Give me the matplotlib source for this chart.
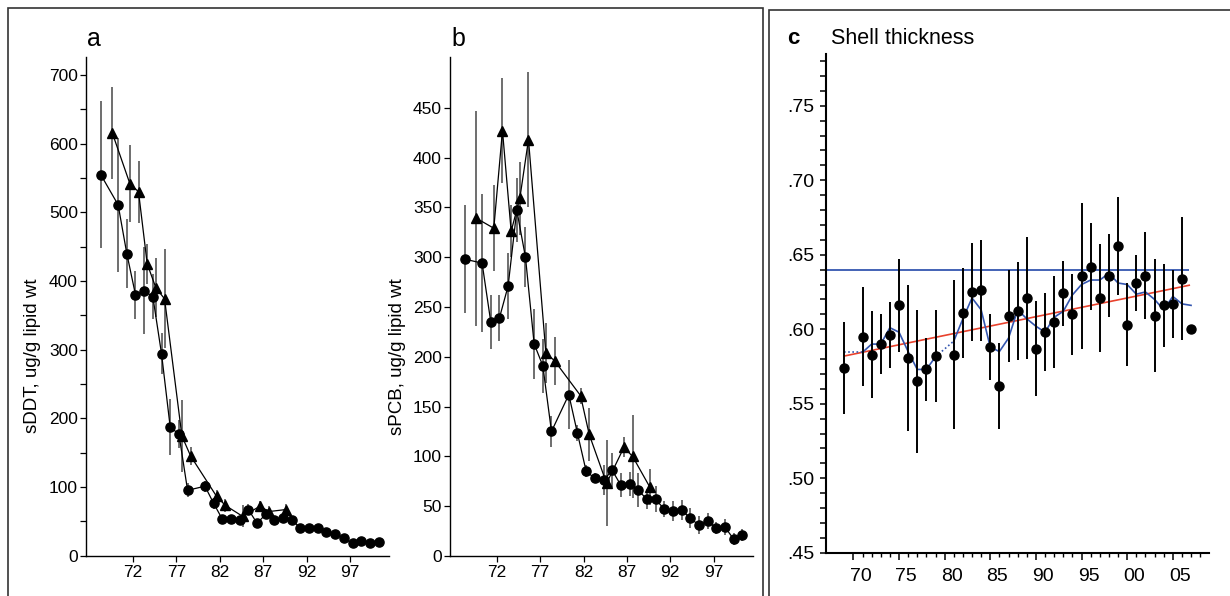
import numpy as np
import matplotlib
matplotlib.use("Agg")
import matplotlib.pyplot as plt
from matplotlib.patches import Rectangle
from matplotlib.ticker import MultipleLocator, FixedLocator, FuncFormatter
from matplotlib.transforms import ScaledTranslation

plt.rcParams["font.family"] = ["Liberation Sans", "DejaVu Sans"]

# --- contaminant series (two-digit years), circles and triangles ---
circ_years = [68, 70, 71, 72, 73, 74, 75, 76, 77, 78,
              80, 81, 82, 83, 84, 85, 86, 87, 88, 89, 90,
              91, 92, 93, 94, 95, 96, 97, 98, 99, 100]
tri_years = [69, 71, 72, 73, 74, 75, 77, 78, 81, 82, 84, 86, 87, 89]

ddt_circ = [555, 511, 440, 380, 386, 377, 294, 187, 177, 95,
            101, 76, 53, 53, 52, 67, 47, 60, 52, 55, 52,
            40, 40, 40, 34, 32, 25, 18, 21, 18, 20]
ddt_circ_err = [107, 98, 50, 35, 63, 33, 30, 41, 20, 10,
                8, 8, 6, 6, 6, 8, 6, 6, 6, 6, 5,
                4, 4, 4, 4, 4, 4, 4, 4, 4, 4]
ddt_tri = [615, 542, 530, 425, 390, 374, 174, 145, 86, 73, 57, 72, 64, 67]
ddt_tri_err = [67, 56, 45, 29, 43, 72, 52, 13, 10, 10, 16, 8, 8, 8]

pcb_circ = [298, 294, 235, 239, 271, 347, 300, 213, 191, 125,
            162, 123, 85, 78, 76, 86, 71, 72, 66, 57, 57,
            47, 45, 46, 38, 31, 35, 28, 29, 17, 21]
pcb_circ_err = [54, 69, 27, 23, 33, 32, 30, 35, 27, 16,
                35, 8, 6, 5, 15, 17, 12, 12, 17, 10, 13,
                8, 10, 10, 10, 9, 8, 6, 8, 6, 6]
pcb_tri = [339, 329, 427, 326, 359, 418, 204, 196, 161, 122, 73, 109, 100, 69]
pcb_tri_err = [108, 43, 53, 26, 37, 68, 30, 24, 8, 27, 43, 10, 42, 18]

# --- shell thickness ---
shell_years = [1969, 1971, 1972, 1973, 1974, 1975, 1976, 1977, 1978, 1979,
               1981, 1982, 1983, 1984, 1985, 1986, 1987, 1988, 1989, 1990,
               1991, 1992, 1993, 1994, 1995, 1996, 1997, 1998, 1999, 2000,
               2001, 2002, 2003, 2004, 2005, 2006, 2007]
shell = [0.574, 0.595, 0.583, 0.590, 0.596, 0.616, 0.581, 0.565, 0.573, 0.582,
         0.583, 0.611, 0.625, 0.626, 0.588, 0.562, 0.609, 0.612, 0.621, 0.587,
         0.598, 0.605, 0.624, 0.610, 0.636, 0.642, 0.621, 0.636, 0.656, 0.603,
         0.631, 0.636, 0.609, 0.616, 0.617, 0.634, 0.600]
shell_err = [0.031, 0.033, 0.029, 0.020, 0.022, 0.031, 0.049, 0.048, 0.021, 0.031,
             0.050, 0.030, 0.033, 0.034, 0.022, 0.029, 0.031, 0.033, 0.041, 0.032,
             0.026, 0.031, 0.022, 0.027, 0.049, 0.029, 0.036, 0.028, 0.033, 0.028,
             0.019, 0.029, 0.038, 0.028, 0.023, 0.041, 0.0]
smooth = [0.5845, 0.5845, 0.590, 0.590, 0.601, 0.598, 0.585, 0.573, 0.573, 0.5815,
          0.592, 0.607, 0.621, 0.613, 0.588, 0.585, 0.594, 0.613, 0.607, 0.602,
          0.598, 0.608, 0.612, 0.623, 0.630, 0.633, 0.633, 0.6375, 0.631, 0.630,
          0.6235, 0.625, 0.620, 0.613, 0.622, 0.617, 0.616]
trend_years = [1969, 2006.8]
trend = [0.582, 0.6295]
reference_level = 0.64
reference_end = 2006.8

W, H = 1230, 596
fig = plt.figure(figsize=(W / 100, H / 100), dpi=100)


def px_axes(left, top, right, bottom):
    return fig.add_axes([left / W, 1 - bottom / H, (right - left) / W, (bottom - top) / H])


CIRC_OFF, TRI_OFF = 0.3, 0.65


def contaminant_panel(ax, circ, circ_err, tri, tri_err, ymax, yticks, minor, ylabel):
    xc = np.array(circ_years) + CIRC_OFF
    xt = np.array(tri_years) + TRI_OFF
    ax.errorbar(xt, tri, yerr=tri_err, fmt="none", ecolor="#555555", elinewidth=1.2, zorder=2)
    ax.errorbar(xc, circ, yerr=circ_err, fmt="none", ecolor="#555555", elinewidth=1.2, zorder=2)
    ax.plot(xt, tri, color="black", lw=0.9, marker="^", ms=7.5, zorder=3)
    ax.plot(xc, circ, color="black", lw=0.9, marker="o", ms=6.6, zorder=3)
    ax.set_xlim(66.6, 101.5)
    ax.set_ylim(0, ymax)
    ax.set_xticks([72, 77, 82, 87, 92, 97])
    ax.yaxis.set_major_locator(FixedLocator(yticks))
    if minor:
        ax.yaxis.set_minor_locator(MultipleLocator(minor))
    for s in ["top", "right"]:
        ax.spines[s].set_visible(False)
    for s in ["left", "bottom"]:
        ax.spines[s].set_linewidth(1.0)
    ax.tick_params(axis="both", which="both", direction="out", length=4.3, width=0.9,
                   labelsize=12.5, pad=1.5)
    ax.tick_params(axis="x", pad=2.5)
    ax.set_ylabel(ylabel, fontsize=13.5)
    ax.yaxis.set_label_coords(-0.147, 0.40)


ax_a = px_axes(86, 57.3, 389, 555.5)
contaminant_panel(ax_a, ddt_circ, ddt_circ_err, ddt_tri, ddt_tri_err, 726,
                  list(range(0, 701, 100)), 50, "sDDT, ug/g lipid wt")
ax_b = px_axes(450, 57.3, 752.7, 556)
contaminant_panel(ax_b, pcb_circ, pcb_circ_err, pcb_tri, pcb_tri_err, 500.6,
                  list(range(0, 451, 50)), None, "sPCB, ug/g lipid wt")

fig.text(94 / W, 1 - 39 / H, "a", fontsize=18, ha="center", va="center")
fig.text(458 / W, 1 - 39 / H, "b", fontsize=18, ha="center", va="center")

# --- panel c ---
ax_c = px_axes(826, 54.3, 1209.3, 552.7)
blue = "#3456b0"
ax_c.hlines(reference_level, 1967, reference_end, color=blue, lw=1.3, zorder=2)
ax_c.plot(trend_years, trend, color="#e8412c", lw=1.2, zorder=2)

sy = np.array(shell_years)
sm = np.array(smooth)
# solid through consecutive years, dotted across missing years
gaps = np.where(np.diff(sy) > 1)[0]
start = 0
for g in list(gaps) + [len(sy) - 1]:
    ax_c.plot(sy[start:g + 1], sm[start:g + 1], color=blue, lw=1.2, zorder=2)
    start = g + 1
for g in gaps:
    ax_c.plot(sy[g:g + 2], sm[g:g + 2], color=blue, lw=1.2, ls=(0, (1, 1.5)), zorder=2)

ax_c.errorbar(sy, shell, yerr=shell_err, fmt="none", ecolor="black", elinewidth=1.4, zorder=3)
ax_c.plot(sy, shell, "o", color="black", ms=6.5, zorder=4)

ax_c.set_xlim(1967, 2009)
ax_c.set_ylim(0.45, 0.7845)
ax_c.xaxis.set_major_locator(FixedLocator(list(range(1970, 2006, 5))))
ax_c.xaxis.set_minor_locator(FixedLocator(list(range(1970, 2009))))
ax_c.xaxis.set_major_formatter(FuncFormatter(lambda v, p: f"{int(v) % 100:02d}"))
ax_c.yaxis.set_major_locator(FixedLocator([0.45, 0.50, 0.55, 0.60, 0.65, 0.70, 0.75]))
ax_c.yaxis.set_minor_locator(MultipleLocator(0.01))
ax_c.yaxis.set_major_formatter(FuncFormatter(lambda v, p: f"{v:.2f}".lstrip("0")))
for s in ["top", "right"]:
    ax_c.spines[s].set_visible(False)
for s in ["left", "bottom"]:
    ax_c.spines[s].set_linewidth(1.5)
ax_c.tick_params(axis="y", which="both", direction="out", length=4.1, width=1.1,
                 labelsize=14, pad=4.5)
ax_c.tick_params(axis="x", which="major", direction="out", length=4.8, width=1.1,
                 labelsize=14, pad=6)
ax_c.tick_params(axis="x", which="minor", direction="out", length=2.9, width=1.0)
shift = ScaledTranslation(7 / 100, 0, fig.dpi_scale_trans)
for lab in ax_c.get_xticklabels():
    lab.set_transform(lab.get_transform() + shift)

fig.text(787 / W, 1 - 44 / H, "c", fontsize=16, fontweight="bold", ha="left", va="baseline")
fig.text(831 / W, 1 - 44 / H, "Shell thickness", fontsize=15.5, ha="left", va="baseline")

# panel frames
frame_kw = dict(transform=fig.transFigure, fill=False, edgecolor="#333333", lw=1.2)
fig.add_artist(Rectangle((8.3 / W, -0.02), (762.7 - 8.3) / W, 1 - 8.3 / H + 0.02, **frame_kw))
fig.add_artist(Rectangle((769.3 / W, -0.02), 1.05 - 769.3 / W, 1 - 10 / H + 0.02, **frame_kw))

fig.savefig("out.png", dpi=100)
